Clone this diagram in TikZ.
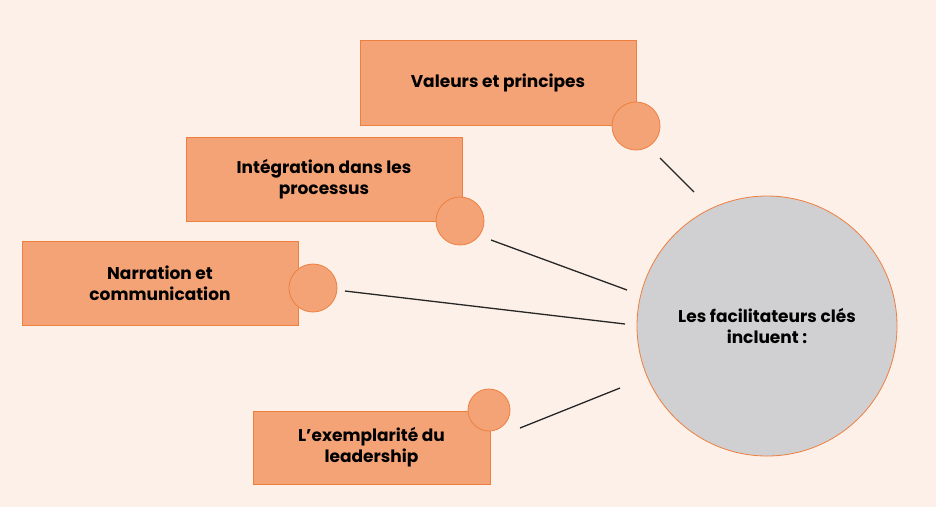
\documentclass[tikz,border=0pt]{standalone}
\usepackage{fontspec}
\setmainfont{Poppins}
\definecolor{bg}{HTML}{FDF0E9}
\definecolor{boxf}{HTML}{F4A376}
\definecolor{boxd}{HTML}{EE7F3F}
\definecolor{grayf}{HTML}{D0CFD1}
\begin{document}
\begin{tikzpicture}[x=1pt,y=-1pt,
  lbl/.style={draw=boxd,fill=boxf,line width=0.8pt,font=\fontsize{17}{21}\selectfont\bfseries,align=center,inner sep=0pt},
  dot/.style={circle,draw=boxd,fill=boxf,line width=0.8pt,inner sep=0pt},
  conn/.style={line width=1.3pt,black!85}]
\fill[bg] (0,0) rectangle (936,507);
\useasboundingbox (0,0) rectangle (936,507);
\node[lbl,minimum width=276pt,minimum height=85pt] (b1) at (498,82.5) {Valeurs et principes};
\node[dot,minimum size=48pt] (c1) at (636,126) {};
\node[lbl,minimum width=276pt,minimum height=84pt] (b2) at (324,179) {Intégration dans les\\processus};
\node[dot,minimum size=48pt] (c2) at (460,221) {};
\node[lbl,minimum width=276pt,minimum height=84pt] (b3) at (160,283) {Narration et\\communication};
\node[dot,minimum size=48pt] (c3) at (313,288) {};
\node[lbl,minimum width=237pt,minimum height=73pt] (b4) at (371.5,447.5) {L'exemplarité du\\leadership};
\node[dot,minimum size=42pt] (c4) at (489,410) {};
\node[circle,draw=boxd,fill=grayf,line width=0.8pt,minimum size=260pt,inner sep=0pt,font=\fontsize{17}{21}\selectfont\bfseries,align=center] (big) at (767,326) {Les facilitateurs clés\\incluent :};
\coordinate (s1) at (660,158); \coordinate (e1) at (694,192);
\coordinate (s2) at (491,240); \coordinate (e2) at (627,290);
\coordinate (s3) at (345,291); \coordinate (e3) at (625,324);
\coordinate (s4) at (520,428); \coordinate (e4) at (620,388);
\draw[conn] (s1) -- (e1);
\draw[conn] (s2) -- (e2);
\draw[conn] (s3) -- (e3);
\draw[conn] (s4) -- (e4);
\end{tikzpicture}
\end{document}
